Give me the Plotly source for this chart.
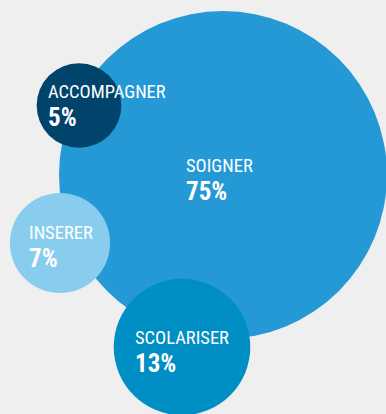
import math
import plotly.graph_objects as go

# Share of activity by mission (percent)
categories = ["SOIGNER", "ACCOMPAGNER", "INSERER", "SCOLARISER"]
values = [75, 5, 7, 13]

# Layout: bubble centres and label anchor points in pixel units
W, H = 386, 414
centers = {"SOIGNER": (223, 175), "ACCOMPAGNER": (79, 105.5),
           "INSERER": (60, 243), "SCOLARISER": (182, 347)}
label_pos = {"SOIGNER": (184, 165.5), "ACCOMPAGNER": (46, 92),
             "INSERER": (27, 233), "SCOLARISER": (133, 337.5)}
colors = {"SOIGNER": "#2499d6", "ACCOMPAGNER": "#00446c",
          "INSERER": "#89cdee", "SCOLARISER": "#008fc5"}

# Bubble area proportional to the value; the largest bubble has radius 164 px
scale = 164 / math.sqrt(max(values))

fig = go.Figure()
for cat, val in zip(categories, values):
    cx, cy = centers[cat]
    r = scale * math.sqrt(val)
    fig.add_trace(go.Scatter(
        x=[cx], y=[cy], mode="markers",
        marker=dict(size=2 * r, color=colors[cat], line=dict(width=0), opacity=1),
        hoverinfo="skip", showlegend=False, cliponaxis=True))

font_family = "Liberation Sans Narrow, Roboto Condensed, DejaVu Sans Condensed, Arial Narrow, sans-serif"
for cat, val in zip(categories, values):
    lx, ly = label_pos[cat]
    fig.add_annotation(x=lx, y=ly, text=cat, showarrow=False,
                       xanchor="left", yanchor="middle",
                       font=dict(family=font_family, size=18.5, color="white"))
    fig.add_annotation(x=lx, y=ly + 25.5, text=f"<b>{val}%</b>", showarrow=False,
                       xanchor="left", yanchor="middle",
                       font=dict(family=font_family, size=25, color="white"))

fig.update_layout(
    width=W, height=H, margin=dict(l=0, r=0, t=0, b=0),
    paper_bgcolor="#efefef", plot_bgcolor="#efefef",
    xaxis=dict(range=[0, W], visible=False, fixedrange=True),
    yaxis=dict(range=[H, 0], visible=False, fixedrange=True),
)
fig.write_html("out.html", config={"displayModeBar": False})
